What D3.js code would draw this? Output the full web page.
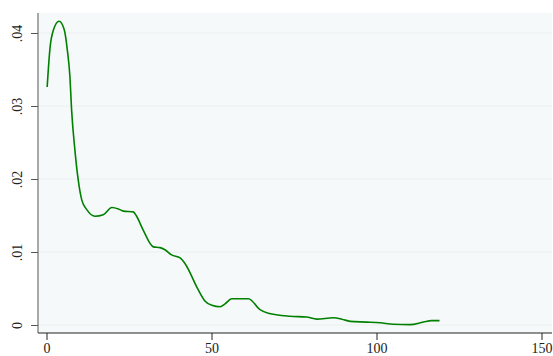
<!DOCTYPE html>
<html>
<head>
<meta charset="utf-8">
<script src="https://cdn.jsdelivr.net/npm/d3@7"></script>
<style>
  body { margin: 0; background: #fff; }
  text { font-family: "Liberation Serif", "DejaVu Serif", serif; font-size: 14px; fill: #222; }
</style>
</head>
<body>
<svg width="553" height="356"></svg>
<script>
// density estimate
var xs = [0.2, 1.1, 2.1, 3.8, 5.4, 6.3, 7.1, 7.6, 8.6, 9.6, 10.7, 12.2, 14.7, 17.2, 19.8, 21.8, 23.3, 26.3, 27.3,
    29.3, 32.4, 34.4, 35.9, 37.9, 40.5, 42.0, 46.0, 48.0, 50.1, 52.6, 54.1, 56.1, 61.2, 64.7, 67.2, 73.8,
    78.8, 81.9, 86.9, 89.5, 92.0, 97.0, 101.1, 105.1, 110.2, 114.2, 116.7, 119.1]
var ys = [0.0326, 0.0381, 0.0404, 0.0416, 0.0404, 0.0377, 0.0340, 0.0295, 0.0240, 0.0199, 0.0171, 0.0158, 0.0149,
    0.0151, 0.0161, 0.0159, 0.0156, 0.0155, 0.0149, 0.0130, 0.0107, 0.0106, 0.0103, 0.0096, 0.0092, 0.0084,
    0.0048, 0.0033, 0.0027, 0.0025, 0.0029, 0.0036, 0.0036, 0.0021, 0.0016, 0.0012, 0.0011, 0.0008, 0.0010,
    0.0008, 0.0005, 0.0004, 0.0003, 0.0001, 0.00005, 0.0004, 0.0006, 0.0006]
var xTicks = [0, 50, 100, 150]
var yTicks = [0, 0.01, 0.02, 0.03, 0.04]
var yLabels = ['0', '.01', '.02', '.03', '.04']

var svg = d3.select('svg')

var x = d3.scaleLinear().domain([0, 150]).range([46.5, 541.5])
var y = d3.scaleLinear().domain([0, 0.04]).range([325, 33])

// plot region
svg.append('rect')
    .attr('x', 38)
    .attr('y', 13)
    .attr('width', 514)
    .attr('height', 320)
    .attr('fill', '#f6f9f9')

// gridlines
svg.append('g')
    .selectAll('line')
    .data(yTicks)
    .enter()
    .append('line')
    .attr('x1', 38)
    .attr('x2', 552)
    .attr('y1', d => y(d))
    .attr('y2', d => y(d))
    .attr('stroke', '#e9f0f1')
    .attr('stroke-width', 1.2)

// axes
var yAxis = svg.append('g')
    .attr('transform', 'translate(38,0)')
    .call(d3.axisLeft(y).tickValues(yTicks).tickFormat((d, i) => yLabels[i]).tickSize(7).tickSizeOuter(0))
yAxis.select('.domain').attr('d', 'M0,13V333').attr('stroke', '#555')
yAxis.selectAll('.tick line').attr('stroke', '#555')
yAxis.selectAll('.tick text')
    .attr('x', 0)
    .attr('y', 0)
    .attr('dy', 0)
    .attr('transform', 'translate(-16,0) rotate(-90)')
    .style('text-anchor', 'middle')
    .style('font-size', '14px')
    .style('font-family', '"Liberation Serif", serif')
    .attr('fill', '#222')

var xAxis = svg.append('g')
    .attr('transform', 'translate(0,333)')
    .call(d3.axisBottom(x).tickValues(xTicks).tickFormat(d3.format('d')).tickSize(7).tickSizeOuter(0))
xAxis.select('.domain').attr('d', 'M38,0H552').attr('stroke', '#222')
xAxis.selectAll('.tick line').attr('stroke', '#222')
xAxis.selectAll('.tick text')
    .attr('y', 10)
    .style('font-size', '14px')
    .style('font-family', '"Liberation Serif", serif')
    .attr('fill', '#222')

// density line
var line = d3.line()
    .x((d, i) => x(xs[i]))
    .y((d, i) => y(ys[i]))
    .curve(d3.curveMonotoneX)

svg.append('path')
    .datum(ys)
    .attr('d', line)
    .attr('fill', 'none')
    .attr('stroke', '#008000')
    .attr('stroke-width', 1.6)
</script>
</body>
</html>
